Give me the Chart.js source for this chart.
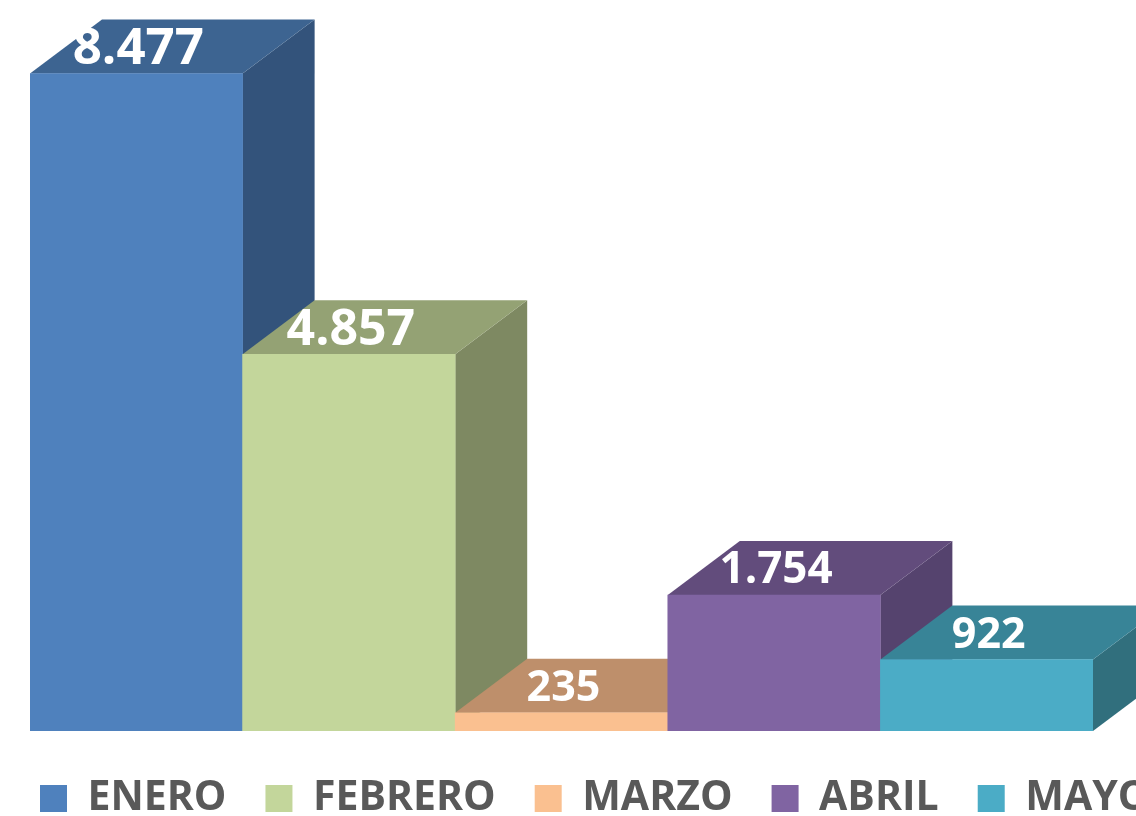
<!DOCTYPE html>
<html lang="es">
<head>
<meta charset="utf-8">
<title>Meses</title>
<script src="https://cdn.jsdelivr.net/npm/chart.js@4.4.1/dist/chart.umd.min.js"></script>
<style>
    html, body { margin: 0; padding: 0; background: #ffffff; }
    #contenedor { width: 1136px; height: 816px; overflow: hidden; position: relative; }
    #grafico { display: block; }
</style>
</head>
<body>
<div id="contenedor">
    <canvas id="grafico" width="1300" height="829"></canvas>
</div>
<script>
// Datos
const meses = ['ENERO', 'FEBRERO', 'MARZO', 'ABRIL', 'MAYO'];
const valores = [8477, 4857, 235, 1754, 922];

// Colores de cada cara (frente, tapa, lateral)
const coloresFrente = ['#4F81BD', '#C3D69B', '#FAC090', '#8064A2', '#4BACC6'];
const coloresTapa = ['#3D6491', '#94A274', '#BE8F6B', '#624C7C', '#388497'];
const coloresLado = ['#33537B', '#7E8962', '#A87C5B', '#55436E', '#316F7D'];
const tamLetra = [51, 50, 43, 44, 43];

// Profundidad del efecto 3D
const fondoX = 72;
const fondoY = 54;

const formato = v => v.toLocaleString('de-DE');

const poligono = (ctx, puntos, color) => {
    ctx.beginPath();
    ctx.moveTo(puntos[0][0], puntos[0][1]);
    puntos.slice(1).forEach(p => ctx.lineTo(p[0], p[1]));
    ctx.closePath();
    ctx.fillStyle = color;
    ctx.fill();
};

// Caras laterales y tapas, antes de los frentes
const caras3D = {
    id: 'caras3D',
    beforeDatasetsDraw(chart) {
        const ctx = chart.ctx;
        const meta = chart.getDatasetMeta(0);
        ctx.save();
        meta.data.forEach((bar, i) => {
            const izq = bar.x - bar.width / 2;
            const der = bar.x + bar.width / 2;
            const arriba = bar.y;
            const base = bar.base;
            // lateral
            poligono(ctx, [[der, arriba], [der + fondoX, arriba - fondoY], [der + fondoX, base - fondoY], [der, base]], coloresLado[i]);
            // tapa
            poligono(ctx, [[izq, arriba], [der, arriba], [der + fondoX, arriba - fondoY], [izq + fondoX, arriba - fondoY]], coloresTapa[i]);
        });
        ctx.restore();
    },
    afterDatasetsDraw(chart) {
        const ctx = chart.ctx;
        const meta = chart.getDatasetMeta(0);
        ctx.save();
        ctx.fillStyle = '#ffffff';
        ctx.textAlign = 'center';
        ctx.textBaseline = 'middle';
        meta.data.forEach((bar, i) => {
            ctx.font = `bold ${tamLetra[i]}px "Open Sans"`;
            ctx.fillText(formato(valores[i]), bar.x + 2, bar.y - 24);
        });
        ctx.restore();
    }
};

// Ejes invisibles que solo reservan espacio
const ejeVacio = (tam, vertical) => ({
    display: true,
    ticks: { display: false },
    grid: { display: false },
    border: { display: false },
    afterFit: eje => {
        if (vertical) { eje.width = tam; } else { eje.height = tam; }
    }
});

const ctxGrafico = document.getElementById('grafico').getContext('2d');

new Chart(ctxGrafico, {
    type: 'bar',
    data: {
        labels: meses,
        datasets: [{
            data: valores,
            backgroundColor: coloresFrente,
            borderWidth: 0,
            categoryPercentage: 1,
            barPercentage: 1
        }]
    },
    options: {
        responsive: false,
        animation: false,
        layout: { padding: { left: 1, right: 0, top: 33, bottom: 0 } },
        scales: {
            x: ejeVacio(8, false),
            y: { ...ejeVacio(29, true), min: 0, max: 9000 },
            derecha: { ...ejeVacio(207, true), position: 'right', min: 0, max: 9000 }
        },
        plugins: {
            tooltip: { enabled: false },
            legend: {
                position: 'bottom',
                align: 'start',
                labels: {
                    boxWidth: 27,
                    boxHeight: 27,
                    padding: 39,
                    color: '#595959',
                    font: { family: '"Open Sans"', size: 41, weight: 'bold' },
                    generateLabels: chart => chart.data.labels.map((mes, i) => ({
                        text: mes,
                        fillStyle: coloresFrente[i],
                        strokeStyle: coloresFrente[i],
                        lineWidth: 0,
                        fontColor: '#595959',
                        hidden: false,
                        index: i
                    }))
                }
            }
        }
    },
    plugins: [caras3D]
});
</script>
</body>
</html>
